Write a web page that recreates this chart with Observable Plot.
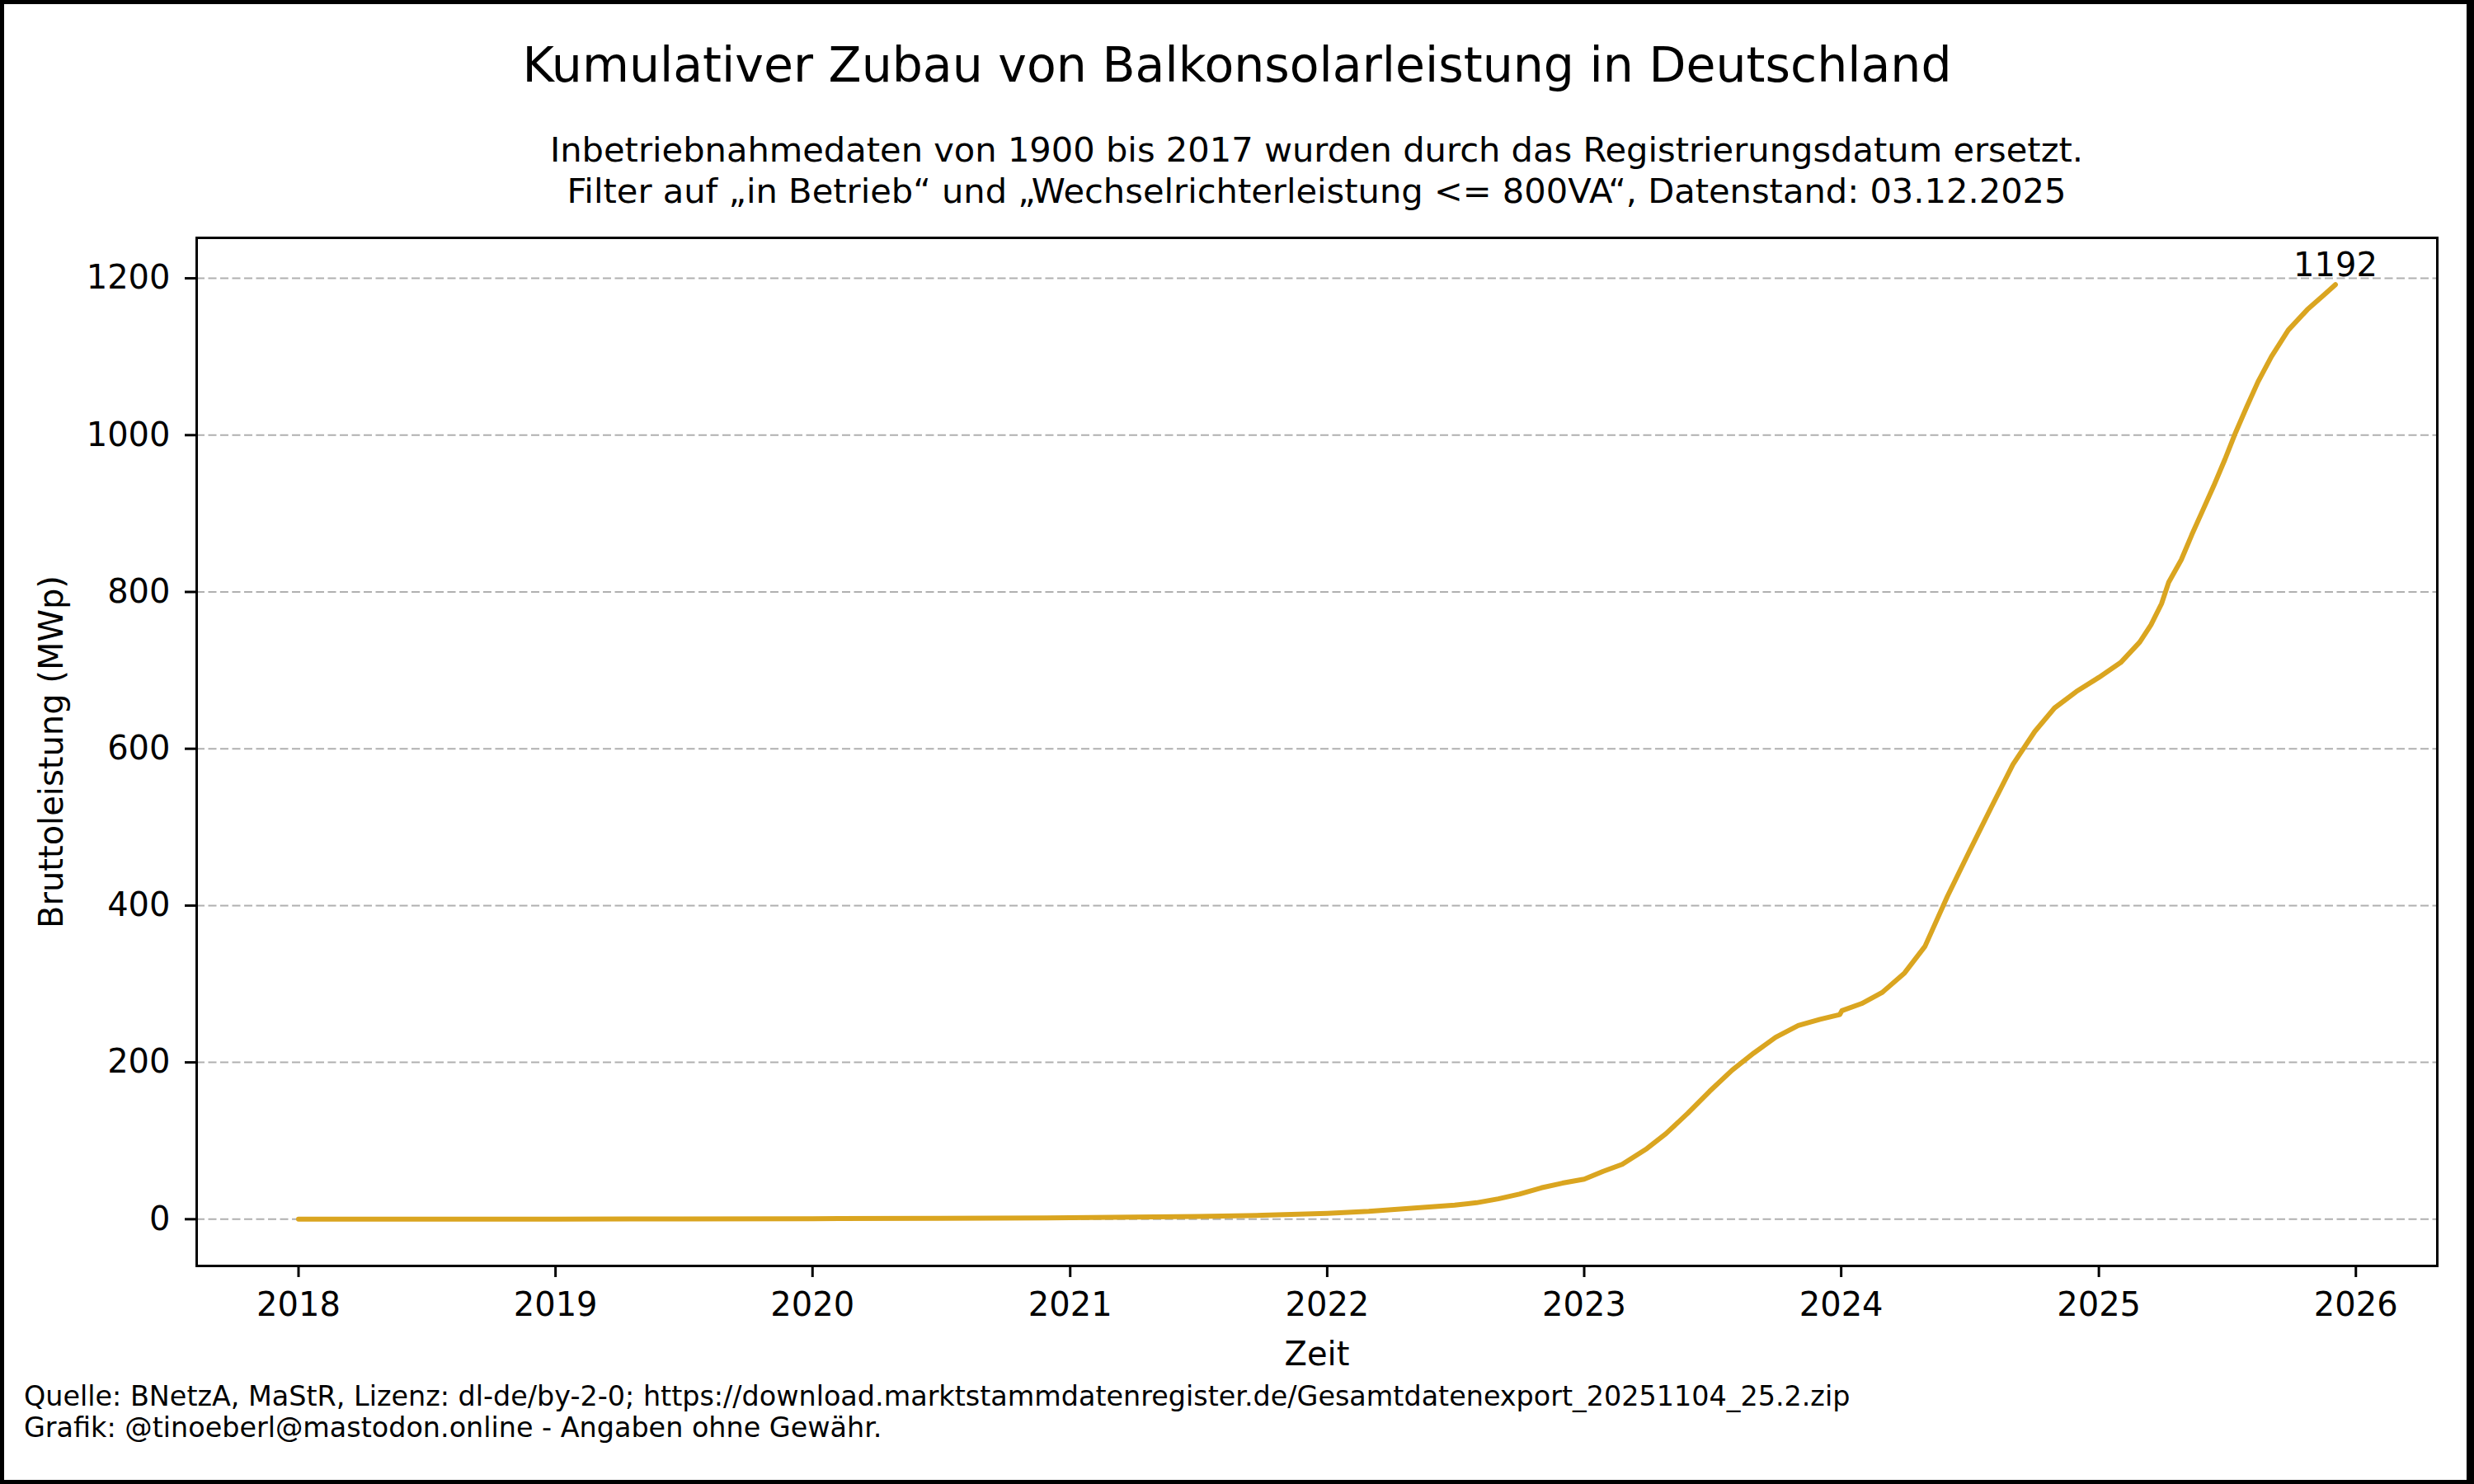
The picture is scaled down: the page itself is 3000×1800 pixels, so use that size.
<!DOCTYPE html>
<html>
<head>
<meta charset="utf-8">
<script src="https://cdn.jsdelivr.net/npm/d3@7"></script>
<script src="https://cdn.jsdelivr.net/npm/@observablehq/plot@0.6"></script>
<style>
html, body { margin: 0; padding: 0; background: #fff; overflow: hidden; }
#fig { position: relative; width: 3000px; height: 1800px; background: #fff; font-family: "DejaVu Sans", sans-serif; color: #000; }
#border { position: absolute; left: 0; top: 0; width: 3000px; height: 1800px; box-sizing: border-box; border-style: solid; border-color: #000; border-width: 5px 9px 5px 5px; pointer-events: none; }
#chart { position: absolute; left: 0; top: 0; }
#title { position: absolute; left: 0; width: 3000px; top: 50px; text-align: center; font-size: 58.5px; line-height: 58.5px; white-space: nowrap; }
#subtitle { position: absolute; left: 238px; width: 2717px; top: 157px; text-align: center; font-size: 41.6px; line-height: 50px; white-space: nowrap; }
#caption { position: absolute; left: 29px; top: 1675px; font-size: 33.4px; line-height: 38px; white-space: nowrap; }
</style>
</head>
<body>
<div id="fig">
  <div id="chart"></div>
  <div id="title">Kumulativer Zubau von Balkonsolarleistung in Deutschland</div>
  <div id="subtitle">Inbetriebnahmedaten von 1900 bis 2017 wurden durch das Registrierungsdatum ersetzt.<br>Filter auf „in Betrieb“ und „Wechselrichterleistung &lt;= 800VA“, Datenstand: 03.12.2025</div>
  <div id="caption">Quelle: BNetzA, MaStR, Lizenz: dl-de/by-2-0; https://download.marktstammdatenregister.de/Gesamtdatenexport_20251104_25.2.zip<br>Grafik: @tinoeberl@mastodon.online - Angaben ohne Gewähr.</div>
  <div id="border"></div>
</div>
<script>
// ---- Data ----
const dates = [
  "2018-01-01","2018-07-01","2019-01-01","2019-07-01","2020-01-01","2020-07-01",
  "2021-01-01","2021-04-01","2021-07-01","2021-10-01","2022-01-01","2022-03-01",
  "2022-05-01","2022-07-01","2022-08-01","2022-09-01","2022-10-01","2022-11-01",
  "2022-12-01","2023-01-01","2023-01-28","2023-02-24","2023-03-31","2023-04-27",
  "2023-05-28","2023-06-28","2023-07-30","2023-08-30","2023-09-30","2023-11-01",
  "2023-12-02","2023-12-30","2024-01-02","2024-01-30","2024-02-28","2024-03-31",
  "2024-04-29","2024-05-17","2024-05-31","2024-07-01","2024-08-01","2024-09-01",
  "2024-10-02","2024-10-30","2024-11-30","2025-01-01","2025-02-01","2025-02-28",
  "2025-03-16","2025-03-31","2025-04-10","2025-04-28","2025-05-13","2025-05-29",
  "2025-06-13","2025-06-29","2025-07-14","2025-07-30","2025-08-15","2025-09-03",
  "2025-09-27","2025-10-24","2025-11-17","2025-12-03"
];
const values = [
  0, 0.1, 0.2, 0.4, 0.7, 1.1,
  1.8, 2.6, 3.6, 5.0, 7.5, 10,
  14, 18, 21, 26, 32, 40,
  46, 51, 61, 70, 90, 109,
  135, 163, 190, 212, 232, 247,
  255, 261, 266, 275, 289, 314,
  348, 384, 412, 469, 525, 580,
  622, 652, 673, 691, 710, 736,
  758, 785, 812, 841, 873, 905,
  935, 969, 1003, 1036, 1068, 1100,
  1134, 1160, 1179, 1192
];
const xTickYears = [2018, 2019, 2020, 2021, 2022, 2023, 2024, 2025, 2026];
const yTicks = [0, 200, 400, 600, 800, 1000, 1200];

// ---- Build table ----
const data = dates.map((d, i) => ({date: new Date(d + "T00:00:00Z"), value: values[i]}));
const last = data[data.length - 1];

// matplotlib-like 5% margins around the data extent
const t0 = data[0].date.getTime(), t1 = last.date.getTime();
const tPad = (t1 - t0) * 0.05;
const vMin = d3.min(values), vMax = d3.max(values);
const vPad = (vMax - vMin) * 0.05;
const xTicks = xTickYears.map(y => new Date(Date.UTC(y, 0, 1)));

const chart = Plot.plot({
  width: 3000,
  height: 1800,
  marginLeft: 238,
  marginRight: 45,
  marginTop: 288,
  marginBottom: 265,
  style: {fontFamily: "DejaVu Sans", fontSize: "40px", background: "transparent", color: "#000", overflow: "visible"},
  x: {type: "utc", domain: [new Date(t0 - tPad), new Date(t1 + tPad)]},
  y: {domain: [vMin - vPad, vMax + vPad]},
  marks: [
    Plot.gridY(yTicks, {stroke: "#b0b0b0", strokeOpacity: 1, strokeWidth: 2, strokeDasharray: "10,4.5"}),
    Plot.line(data, {x: "date", y: "value", stroke: "#DAA520", strokeWidth: 6}),
    Plot.text([last], {x: "date", y: "value", text: d => String(d.value), dy: -10, lineAnchor: "bottom", fontSize: 40, fill: "#000"}),
    Plot.frame({stroke: "#000", strokeWidth: 3}),
    Plot.axisX({ticks: xTicks, tickFormat: d3.utcFormat("%Y"), tickSize: 14, tickPadding: 18, strokeWidth: 3, fontSize: 40,
      label: "Zeit", labelAnchor: "center", labelOffset: 120, labelArrow: "none"}),
    Plot.axisY({ticks: yTicks, tickFormat: d => String(d), tickSize: 14, tickPadding: 18, strokeWidth: 3, fontSize: 40,
      label: "Bruttoleistung (MWp)", labelAnchor: "center", labelOffset: 191, labelArrow: "none"})
  ]
});
document.getElementById("chart").appendChild(chart);
</script>
</body>
</html>
